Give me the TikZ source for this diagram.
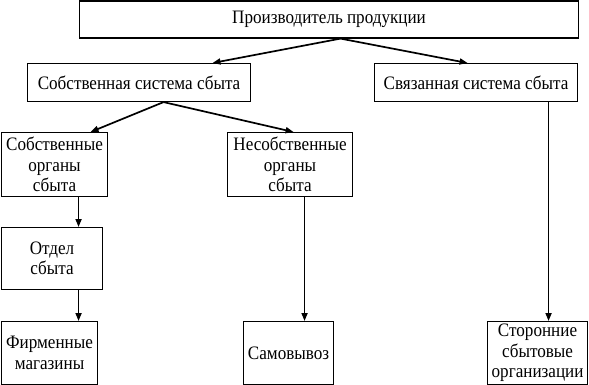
\documentclass[tikz,border=0pt]{standalone}
\usepackage{fontspec}
\setmainfont{Liberation Serif}[FakeStretch=0.9]
\usetikzlibrary{arrows.meta,positioning,calc}

\begin{document}
\begin{tikzpicture}[x=1pt, y=-1pt, line width=1.2pt, >={Triangle[length=8pt,width=6pt]},
    font=\fontsize{19}{20.5}\selectfont,
    unit/.style={draw, line width=1.1pt, inner sep=0pt, align=center, anchor=north west},
    link/.style={->, line width=1.7pt}]
  \useasboundingbox (0,0) rectangle (589,385);
  % top level
  \node[unit, minimum width=499, minimum height=37] (prod) at (79,0.5) {Производитель продукции};
  % sales systems
  \node[unit, minimum width=223, minimum height=38] (own) at (27,63) {Собственная система сбыта};
  \node[unit, minimum width=203, minimum height=38] (tied) at (374,63) {Связанная система сбыта};
  % sales bodies
  \node[unit, minimum width=106, minimum height=64] (ownorg) at (1,132) {Собственные\\ органы\\ сбыта};
  \node[unit, minimum width=125, minimum height=64] (extorg) at (227,132) {Несобственные\\ органы\\ сбыта};
  \node[unit, minimum width=101, minimum height=62] (dept) at (1,227) {Отдел\\ сбыта};
  % outlets
  \node[unit, minimum width=96, minimum height=63] (shops) at (1,321) {Фирменные\\ магазины};
  \node[unit, minimum width=90, minimum height=63] (pickup) at (243,321) {Самовывоз};
  \node[unit, minimum width=100, minimum height=63] (third) at (487,321) {Сторонние\\ сбытовые\\ организации};
  \draw[link] ([xshift=11.5]prod.south) -- ([xshift=73.5]own.north);
  \draw[link] ([xshift=11.5]prod.south) -- ([xshift=-8.5]tied.north);
  \draw[link] ([xshift=24.5]own.south) -- ([xshift=36]ownorg.north);
  \draw[link] ([xshift=24.5]own.south) -- ([xshift=3.5]extorg.north);
  \draw[link] ([xshift=24]ownorg.south) -- ([xshift=24]ownorg.south |- dept.north);
  \draw[link] ([xshift=26.5]dept.south) -- ([xshift=26.5]dept.south |- shops.north);
  \draw[link] ([xshift=14.5]extorg.south) -- ([xshift=14.5]extorg.south |- pickup.north);
  \draw[link] ([xshift=72.5]tied.south) -- ([xshift=72.5]tied.south |- third.north);
\end{tikzpicture}
\end{document}
